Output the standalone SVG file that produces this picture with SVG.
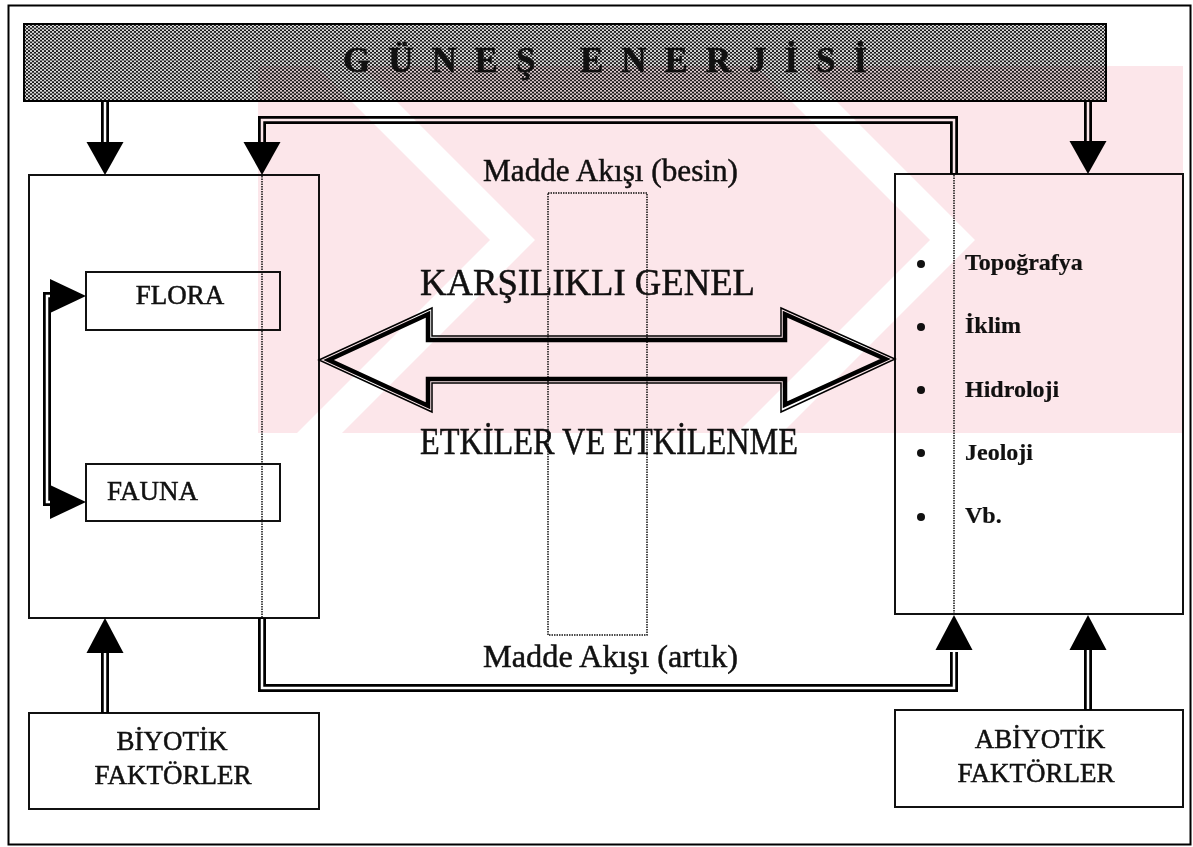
<svg xmlns="http://www.w3.org/2000/svg" width="1193" height="847" viewBox="0 0 1193 847">
  <defs>
    <!-- halftone screen used for the sun banner -->
    <pattern id="halftone" patternUnits="userSpaceOnUse" width="4" height="3.46">
      <rect width="4" height="3.46" fill="#141414"/>
      <circle cx="1" cy="0.865" r="1.0" fill="#fff"/>
      <circle cx="3" cy="2.595" r="1.0" fill="#fff"/>
    </pattern>
    <path id="head-down" d="M-18.5,0 L18.5,0 L0,33 Z"/>
    <path id="head-up" d="M-18.5,0 L18.5,0 L0,-35 Z"/>
    <path id="head-right" d="M0,-17 L0,17 L36,0 Z"/>
  </defs>
  <style>
    .frame{fill:none;stroke:#000;stroke-width:2}
    .box{fill:none;stroke:#111;stroke-width:2}
    .dot{fill:none;stroke:#111;stroke-width:1.5;stroke-dasharray:1.5 1}
    .dbl-out{fill:none;stroke:#000;stroke-width:8;stroke-linejoin:miter}
    .dbl-in{fill:none;stroke:#fff;stroke-width:2.5;stroke-linejoin:miter}
    .head{fill:#000}
    .t{font-family:"Liberation Serif","Times New Roman",serif;fill:#111;stroke:#111;stroke-width:0.5}
    .lbl{font-size:27px}
    .mid{font-size:37px}
    .flow{font-size:32px}
    .item{font-size:24px;font-weight:bold;stroke-width:0.2}
    .bar-outline{fill:none;stroke:#000;stroke-width:1.5;stroke-linejoin:miter}
    .bar-inner{fill:none;stroke:#000;stroke-width:4.5;stroke-linejoin:miter}
  </style>

  <rect x="0" y="0" width="1193" height="847" fill="#fff"/>

  <!-- page frame -->
  <rect class="frame" x="8.5" y="5.5" width="1182" height="839"/>

  <!-- sun energy banner -->
  <g id="gunes-enerjisi">
    <rect x="24" y="24" width="1082" height="77" fill="url(#halftone)" stroke="#000" stroke-width="2"/>
    <text class="t" x="343" y="72" font-size="35" font-weight="bold" fill="#000" stroke-width="0.3" textLength="524" lengthAdjust="spacing">GÜNEŞ ENERJİSİ</text>
  </g>

  <!-- biotic environment -->
  <g id="biyotik-cevre">
    <rect class="box" x="29" y="175" width="290" height="443"/>
    <line class="dot" x1="262" y1="176" x2="262" y2="617"/>
  </g>

  <g id="flora">
    <rect class="box" x="86" y="272" width="194" height="58"/>
    <text class="t lbl" x="180" y="304" text-anchor="middle" font-size="26">FLORA</text>
  </g>

  <g id="fauna">
    <rect class="box" x="86" y="464" width="194" height="57"/>
    <text class="t lbl" x="107" y="500" font-size="26">FAUNA</text>
  </g>

  <!-- abiotic environment -->
  <g id="abiyotik-cevre">
    <rect class="box" x="895" y="174" width="288" height="440"/>
    <line class="dot" x1="954" y1="175" x2="954" y2="613"/>
    <g fill="#111">
      <circle cx="921" cy="264" r="4"/>
      <circle cx="921" cy="327" r="4"/>
      <circle cx="921" cy="390" r="4"/>
      <circle cx="921" cy="453" r="4"/>
      <circle cx="921" cy="517" r="4"/>
    </g>
    <text class="t item" x="965" y="270">Topoğrafya</text>
    <text class="t item" x="965" y="333">İklim</text>
    <text class="t item" x="965" y="397">Hidroloji</text>
    <text class="t item" x="965" y="460">Jeoloji</text>
    <text class="t item" x="965" y="523">Vb.</text>
  </g>

  <!-- material flow column -->
  <g id="madde-akisi">
    <rect class="dot" x="548" y="193" width="99" height="442"/>
    <text class="t flow" x="483" y="181" textLength="255" lengthAdjust="spacingAndGlyphs">Madde Akışı (besin)</text>
    <text class="t flow" x="483" y="667" textLength="255" lengthAdjust="spacingAndGlyphs">Madde Akışı (artık)</text>
  </g>

  <!-- mutual interaction arrow -->
  <g id="karsilikli-etki">
    <path class="bar-outline" d="M319,360 L432,308 L432,336 L781,336 L781,308 L895,359 L781,412 L781,383 L432,383 L432,412 Z"/>
    <path class="bar-inner" d="M328.6,360 L428,314.2 L428,340 L785,340 L785,314.2 L885.4,359 L785,404.8 L785,379 L428,379 L428,405.8 Z"/>
    <text class="t mid" x="420" y="295" textLength="335" lengthAdjust="spacingAndGlyphs">KARŞILIKLI GENEL</text>
    <text class="t mid" x="420" y="454" textLength="378" lengthAdjust="spacingAndGlyphs">ETKİLER VE ETKİLENME</text>
  </g>

  <!-- factor boxes -->
  <g id="biyotik-faktorler">
    <rect class="box" x="29" y="713" width="290" height="96"/>
    <text class="t lbl" x="172" y="750" text-anchor="middle">BİYOTİK</text>
    <text class="t lbl" x="173" y="784" text-anchor="middle">FAKTÖRLER</text>
  </g>

  <g id="abiyotik-faktorler">
    <rect class="box" x="895" y="710" width="288" height="97"/>
    <text class="t lbl" x="1040" y="748" text-anchor="middle">ABİYOTİK</text>
    <text class="t lbl" x="1036" y="782" text-anchor="middle">FAKTÖRLER</text>
  </g>

  <!-- connectors: double-line shafts with solid heads -->
  <g id="connectors">
    <g class="shafts">
      <path class="dbl-out" d="M105,101 V143"/>
      <path class="dbl-out" d="M1088,101 V143"/>
      <path class="dbl-out" d="M954,174 V120 H262 V143"/>
      <path class="dbl-out" d="M262,618 V688 H954 V652"/>
      <path class="dbl-out" d="M105,713 V652"/>
      <path class="dbl-out" d="M1088,710 V650"/>
      <path class="dbl-out" d="M52,296 H47 V502 H52"/>
      <path class="dbl-in" d="M105,102 V143"/>
      <path class="dbl-in" d="M1088,102 V143"/>
      <path class="dbl-in" d="M954,173 V120 H262 V143"/>
      <path class="dbl-in" d="M262,619 V688 H954 V652"/>
      <path class="dbl-in" d="M105,712 V652"/>
      <path class="dbl-in" d="M1088,709 V650"/>
      <path class="dbl-in" d="M52,296 H47 V502 H52"/>
    </g>
    <g class="head">
      <use href="#head-down" x="105" y="142"/>
      <use href="#head-down" x="1088" y="141"/>
      <use href="#head-down" x="262" y="142"/>
      <use href="#head-up" x="105" y="653"/>
      <use href="#head-up" x="1088" y="650"/>
      <use href="#head-up" x="954" y="650"/>
      <use href="#head-right" x="50" y="296"/>
      <use href="#head-right" x="50" y="502"/>
    </g>
  </g>

  <!-- faint background emblem, multiplied over the drawing -->
  <g id="emblem" style="mix-blend-mode:multiply">
    <path fill="#fce6ea" fill-rule="evenodd" d="M258,66 H1183 V433 H258 Z M316,66 L361,66 L535,240 L342,433 L297,433 L490,240 Z M756,66 L801,66 L975,240 L782,433 L737,433 L930,240 Z"/>
  </g>
</svg>
